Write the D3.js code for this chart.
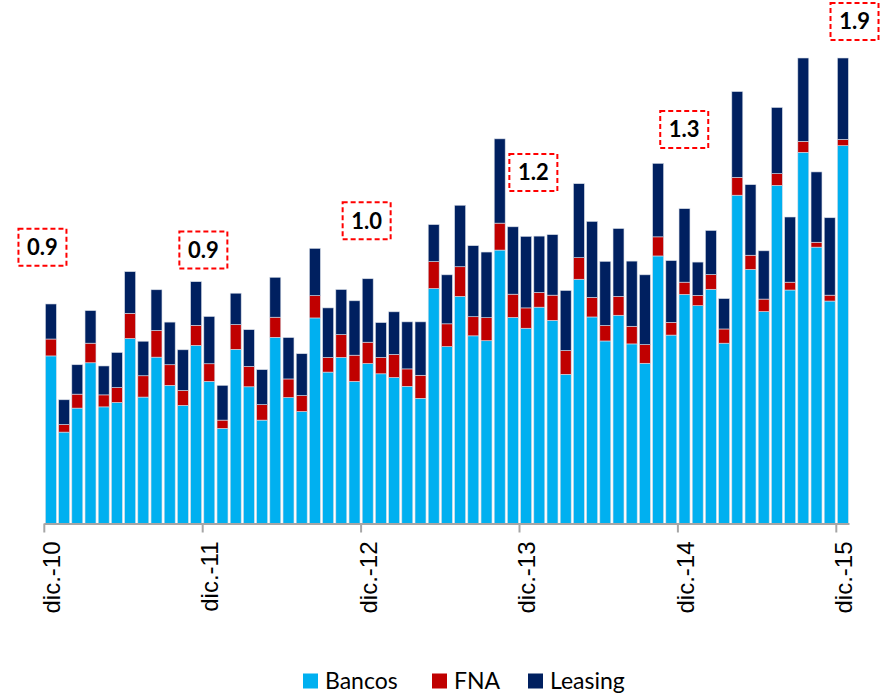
<!DOCTYPE html>
<html>
<head>
<meta charset="utf-8">
<script src="https://cdn.jsdelivr.net/npm/d3@7"></script>
<style>
  body { margin: 0; background: #fff; }
  svg { display: block; }
</style>
</head>
<body>
<svg id="chart" width="883" height="695"></svg>
<script>
// monthly stock, dic-10 .. dic-15 (61 months)
var months = d3.timeMonths(new Date(2010, 11, 1), new Date(2015, 11, 2));
var tickLabels = ["dic.-10", "dic.-11", "dic.-12", "dic.-13", "dic.-14", "dic.-15"];
var seriesNames = ["Bancos", "FNA", "Leasing"];
var seriesColors = ["#00b0f0", "#c00000", "#002060"];

var bancos = [0.684, 0.373, 0.471, 0.656, 0.476, 0.494, 0.755, 0.516, 0.679, 0.564, 0.482, 0.727,
              0.580, 0.388, 0.711, 0.558, 0.422, 0.760, 0.514, 0.457, 0.839, 0.618, 0.678, 0.580,
              0.653, 0.611, 0.596, 0.560, 0.511, 0.959, 0.722, 0.927, 0.766, 0.746, 1.116, 0.841,
              0.797, 0.883, 0.829, 0.609, 0.997, 0.843, 0.745, 0.850, 0.733, 0.654, 1.092, 0.769,
              0.935, 0.889, 0.956, 0.736, 1.340, 1.037, 0.865, 1.380, 0.953, 1.515, 1.128, 0.908,
              1.542];
var fna = [0.069, 0.031, 0.057, 0.080, 0.049, 0.061, 0.103, 0.087, 0.109, 0.084, 0.061, 0.082,
           0.072, 0.034, 0.101, 0.083, 0.063, 0.082, 0.076, 0.065, 0.091, 0.060, 0.093, 0.107,
           0.087, 0.067, 0.094, 0.071, 0.094, 0.110, 0.093, 0.121, 0.078, 0.094, 0.110, 0.095,
           0.083, 0.060, 0.103, 0.097, 0.088, 0.080, 0.063, 0.077, 0.072, 0.076, 0.078, 0.052,
           0.050, 0.042, 0.060, 0.058, 0.073, 0.058, 0.051, 0.048, 0.032, 0.045, 0.020, 0.024,
           0.026];
var leasing = [0.143, 0.101, 0.120, 0.133, 0.118, 0.143, 0.170, 0.141, 0.166, 0.174, 0.166, 0.178,
               0.193, 0.142, 0.128, 0.150, 0.143, 0.163, 0.169, 0.171, 0.193, 0.202, 0.184, 0.222,
               0.259, 0.142, 0.174, 0.192, 0.218, 0.151, 0.200, 0.251, 0.290, 0.268, 0.344, 0.275,
               0.292, 0.230, 0.247, 0.245, 0.302, 0.310, 0.262, 0.277, 0.266, 0.285, 0.300, 0.252,
               0.300, 0.136, 0.180, 0.124, 0.350, 0.288, 0.197, 0.270, 0.266, 0.340, 0.287, 0.316,
               0.332];

// december totals boxes: label, position in months, level
var notes = [
  {label: "0.9", at: -0.64, level: 1.128},
  {label: "0.9", at: 11.55, level: 1.116},
  {label: "1.0", at: 23.92, level: 1.236},
  {label: "1.2", at: 36.55, level: 1.433},
  {label: "1.3", at: 47.98, level: 1.608},
  {label: "1.9", at: 60.88, level: 2.049}
];

var svg = d3.select("#chart");

var rows = months.map(function(m, i) {
  return {i: i, Bancos: bancos[i], FNA: fna[i], Leasing: leasing[i]};
});

var x = d3.scaleBand()
  .domain(d3.range(months.length))
  .range([44.3, 849.5])
  .paddingInner(0.17)
  .paddingOuter(0.085);

var y = d3.scaleLinear().domain([0, 2.1]).range([523.5, 9]);

var stack = d3.stack().keys(seriesNames)(rows);
var color = d3.scaleOrdinal().domain(seriesNames).range(seriesColors);

// stacked bars
svg.append("g").attr("id", "bars")
  .selectAll("g")
  .data(stack)
  .enter().append("g")
    .attr("fill", function(d) { return color(d.key); })
  .selectAll("rect")
  .data(function(d) { return d; })
  .enter().append("rect")
    .attr("x", function(d) { return x(d.data.i); })
    .attr("y", function(d) { return y(d[1]); })
    .attr("width", x.bandwidth())
    .attr("height", function(d) { return y(d[0]) - y(d[1]); })
    .attr("stroke", "#d6dce6")
    .attr("stroke-width", 0.6);

// x axis: ticks between categories every 12 months, label under the december bar
var step = x.step();
var axis = svg.append("g").attr("id", "axis");
axis.append("line")
  .attr("x1", x(0) - step * x.paddingOuter()).attr("x2", x(months.length - 1) + x.bandwidth() + step * x.paddingOuter())
  .attr("y1", y(0) + 0.5).attr("y2", y(0) + 0.5)
  .attr("stroke", "#a6a6a6").attr("stroke-width", 2);

var tickIdx = tickLabels.map(function(t, k) { return k * 12; });

axis.selectAll("line.tick")
  .data(tickIdx)
  .enter().append("line")
    .attr("class", "tick")
    .attr("x1", function(d) { return x(d) - step * x.paddingInner() / 2; })
    .attr("x2", function(d) { return x(d) - step * x.paddingInner() / 2; })
    .attr("y1", y(0)).attr("y2", y(0) + 9)
    .attr("stroke", "#a6a6a6").attr("stroke-width", 2);

axis.selectAll("text")
  .data(tickIdx)
  .enter().append("text")
    .attr("transform", function(d) {
      return "translate(" + (x(d) + x.bandwidth() / 2 + 9) + "," + (y(0) + 18) + ")rotate(-90)";
    })
    .attr("text-anchor", "end")
    .style("font-family", "'Liberation Sans', Arial, sans-serif")
    .style("font-size", "24px")
    .attr("fill", "#000")
    .text(function(d, k) { return tickLabels[k]; });

// dashed boxes with december totals
var boxW = 48, boxH = 37;
var note = svg.append("g").attr("id", "notes")
  .selectAll("g")
  .data(notes)
  .enter().append("g")
    .attr("transform", function(d) {
      var cx = x(0) + x.bandwidth() / 2 + d.at * step;
      return "translate(" + cx + "," + y(d.level) + ")";
    });

note.append("rect")
  .attr("x", -boxW / 2).attr("y", -boxH / 2)
  .attr("width", boxW).attr("height", boxH)
  .attr("fill", "#fff")
  .attr("stroke", "#ff0000")
  .attr("stroke-width", 2)
  .attr("stroke-dasharray", "5,3");

note.append("text")
  .attr("text-anchor", "middle")
  .attr("dy", "0.36em")
  .style("font-family", "Lato, 'Open Sans', sans-serif")
  .style("font-weight", "bold")
  .style("font-size", "22px")
  .attr("fill", "#000")
  .text(function(d) { return d.label; });

// legend
var legendX = [303, 432, 528];
var legend = svg.append("g").attr("id", "legend")
  .selectAll("g")
  .data(seriesNames)
  .enter().append("g")
    .attr("transform", function(d, i) { return "translate(" + legendX[i] + ",681)"; });

legend.append("rect")
  .attr("x", 0).attr("y", -7.5)
  .attr("width", 15).attr("height", 15)
  .attr("fill", function(d) { return color(d); });

legend.append("text")
  .attr("x", 22)
  .attr("dy", "0.36em")
  .style("font-family", "Lato, 'Open Sans', sans-serif")
  .style("font-size", "23px")
  .attr("fill", "#000")
  .text(function(d) { return d; });
</script>
</body>
</html>
